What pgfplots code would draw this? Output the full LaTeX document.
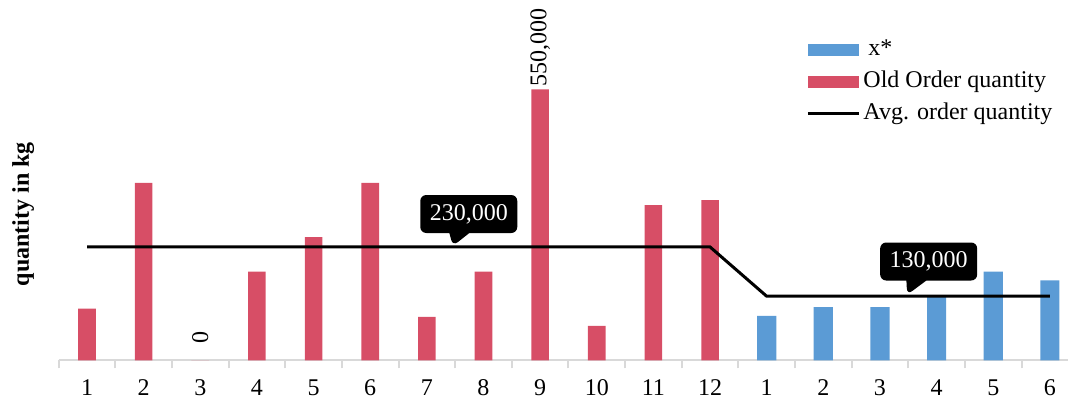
\documentclass[border=0pt]{standalone}
\usepackage{fontspec}
\setmainfont{Liberation Serif}
\usepackage{pgfplots}
\pgfplotsset{compat=1.18}
\usepackage{pgfplotstable}
\usetikzlibrary{shapes.callouts}

\definecolor{oldred}{RGB}{215,78,102}
\definecolor{newblue}{RGB}{91,155,213}
\definecolor{axisgray}{RGB}{217,217,217}

% old order quantities, periods 1-12
\pgfplotstableread{
x  y
1  105000
2  360000
3  0
4  180000
5  250000
6  360000
7  88000
8  180000
9  550000
10 70000
11 315000
12 325000
}\oldorders

% optimal quantities x*, periods 1-6 (positions 13-18)
\pgfplotstableread{
x  y
13 90000
14 108000
15 108000
16 128000
17 180000
18 162000
}\optimal

% average order quantity
\pgfplotstableread{
x  y
1  230000
12 230000
13 130000
18 130000
}\average

\begin{document}
\begin{tikzpicture}[font=\fontsize{12}{14}\selectfont]
\begin{axis}[
  at={(0,0)}, anchor=south west,
  scale only axis,
  width=504.65pt, height=180.1pt,
  xmin=0.5, xmax=18.32,
  ymin=0, ymax=731000,
  axis x line=bottom,
  axis y line=none,
  ytick=\empty,
  x axis line style={-, draw=axisgray, line width=1pt},
  xtick={1,...,18},
  xticklabels={1,2,3,4,5,6,7,8,9,10,11,12,1,2,3,4,5,6},
  major tick length=0pt,
  minor xtick={0.5,1.5,...,17.5},
  minor tick length=4pt,
  xtick align=outside,
  every minor tick/.style={draw=axisgray, line width=1pt},
  xticklabel style={yshift=-6pt},
  clip=false,
  legend cell align=left,
  legend style={draw=none, fill=none, at={(rel axis cs:0.7405,0.900)},
    anchor=north west, inner sep=0pt, row sep=3pt,
    nodes={inner sep=1pt, text height=8.5pt, text depth=2.5pt},
    /tikz/every odd column/.append style={column sep=0.5pt}},
]
\addplot[ybar, bar width=9.6pt, bar shift=0pt, fill=newblue, draw=none,
  legend image code/.code={\fill[newblue] (0pt,-3pt) rectangle (25.5pt,3pt);}]
  table[x=x, y=y] {\optimal};
\addlegendentry{\hspace{2.5pt}x*}
\addplot[ybar, bar width=8.8pt, bar shift=0pt, fill=oldred, draw=none,
  legend image code/.code={\fill[oldred] (0pt,-3pt) rectangle (25.5pt,3pt);}]
  table[x=x, y=y] {\oldorders};
\addlegendentry{Old Order quantity}
\addplot[black, line width=1.5pt, mark=none, sharp plot,
  legend image code/.code={\draw[black, line width=1.5pt] (0pt,0pt) -- (25.5pt,0pt);}]
  table[x=x, y=y] {\average};
\addlegendentry{Avg. order quantity}

% value labels on bars 3 and 9
\addplot[forget plot, only marks, mark=none, point meta=explicit symbolic,
  nodes near coords,
  every node near coord/.style={yshift=7pt, rotate=90, anchor=west, inner sep=1pt, black}]
  coordinates {(3,0)[0]};
\addplot[forget plot, only marks, mark=none, point meta=explicit symbolic,
  nodes near coords,
  every node near coord/.style={rotate=90, anchor=west, inner sep=1pt, black}]
  coordinates {(9,550000)[550,000]};

% callouts on the average line
\node[rectangle callout, fill=black, text=white, rounded corners=3pt,
  minimum width=48.5pt, minimum height=19pt, inner sep=0pt,
  callout absolute pointer={(axis cs:7.46,232000)}, callout pointer width=10pt]
  at (axis cs:7.74,296900) {230,000};
\node[rectangle callout, fill=black, text=white, rounded corners=3pt,
  minimum width=48.5pt, minimum height=19pt, inner sep=0pt,
  callout absolute pointer={(axis cs:15.48,133000)}, callout pointer width=10pt]
  at (axis cs:15.86,200500) {130,000};

\node[rotate=90, font=\bfseries\fontsize{12}{14}\selectfont]
  at (rel axis cs:-0.0351,0.406) {quantity in kg};
\end{axis}
\pgfresetboundingbox
\path[use as bounding box] (-29.35pt,-19.85pt) rectangle (504.65pt,180.15pt);
\end{tikzpicture}
\end{document}
